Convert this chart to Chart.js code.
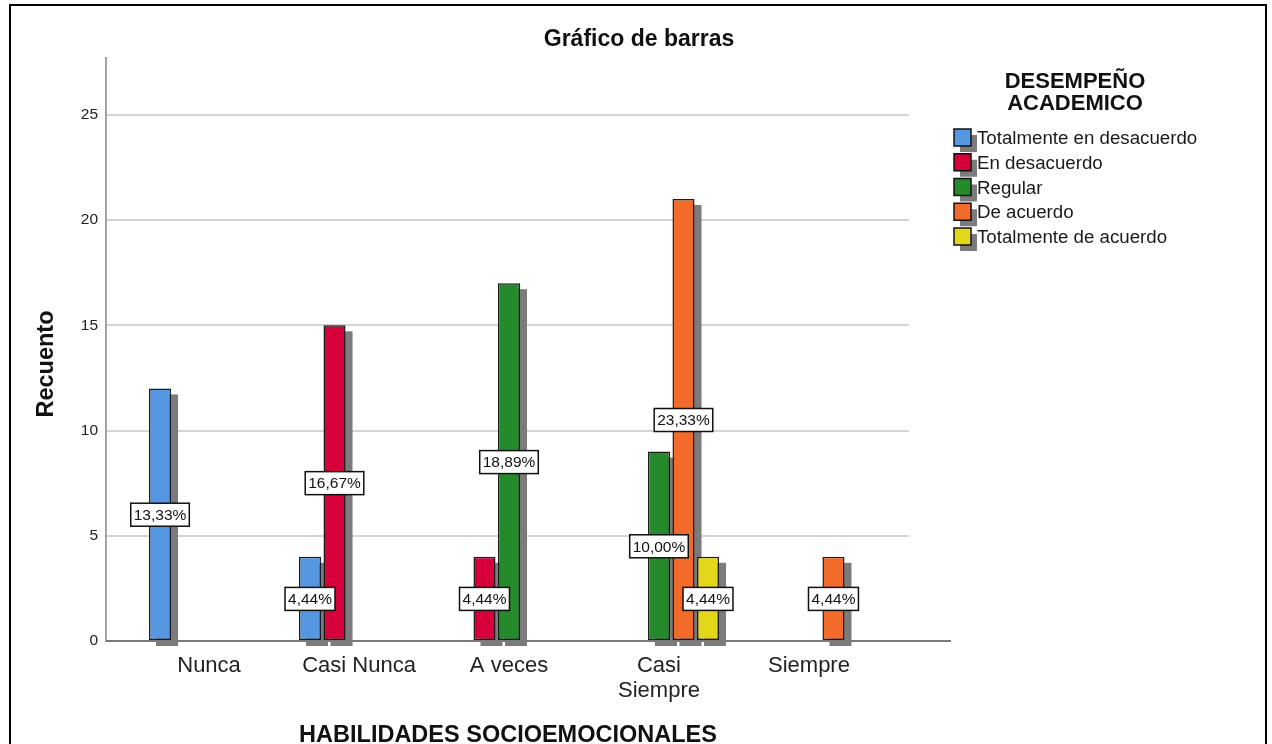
<!DOCTYPE html>
<html lang="es">
<head>
<meta charset="UTF-8" />
<title>Gráfico de barras</title>
<script src="https://cdn.jsdelivr.net/npm/chart.js@4.4.1/dist/chart.umd.min.js"></script>
<style>
  html, body { margin: 0; padding: 0; background: #fff; overflow: hidden; }
  #wrap { position: relative; width: 1272px; height: 744px; }
</style>
</head>
<body>
<div id="wrap"><canvas id="barras" width="1272" height="744"></canvas></div>
<script>
// Recuento por categoría de HABILIDADES SOCIOEMOCIONALES
const categorias = ["Nunca", "Casi Nunca", "A veces", "Casi Siempre", "Siempre"];
const etiquetasEje = ["Nunca", "Casi Nunca", "A veces", ["Casi", "Siempre"], "Siempre"];
const series = ["Totalmente en desacuerdo", "En desacuerdo", "Regular", "De acuerdo", "Totalmente de acuerdo"];
const totDesacuerdo = [12, 4, null, null, null];
const enDesacuerdo = [null, 15, 4, null, null];
const regular = [null, null, 17, 9, null];
const deAcuerdo = [null, null, null, 21, 4];
const totAcuerdo = [null, null, null, 4, null];
const colores = ["#5697e2", "#d6003a", "#248a2c", "#f26b2b", "#e4d719"];
const ticksY = [0, 5, 10, 15, 20, 25];
const tituloLeyenda = ["DESEMPEÑO", "ACADEMICO"];

const valores = [totDesacuerdo, enDesacuerdo, regular, deAcuerdo, totAcuerdo];
const total = valores.flat().reduce((a, v) => a + (v || 0), 0);

const FUENTE = '"Liberation Sans", Arial, sans-serif';

// sombras, etiquetas de porcentaje, títulos, leyenda y marco
const decor = {
    id: "decor",
    beforeDatasetsDraw(chart) {
        const ctx = chart.ctx;
        ctx.save();
        ctx.fillStyle = "#7b7b7b";
        chart.data.datasets.forEach((ds, di) => {
            chart.getDatasetMeta(di).data.forEach((bar, i) => {
                if (ds.data[i] == null) return;
                const p = bar.getProps(["x", "y", "base", "width"], true);
                ctx.fillRect(p.x - p.width / 2 + 7, p.y + 6, p.width, p.base - p.y);
            });
        });
        ctx.restore();
    },
    afterDatasetsDraw(chart) {
        const ctx = chart.ctx;
        const area = chart.chartArea;
        const yScale = chart.scales.y;
        ctx.save();
        // línea del eje X
        ctx.strokeStyle = "#7a7a7a";
        ctx.lineWidth = 2;
        ctx.beginPath();
        ctx.moveTo(area.left, area.bottom);
        ctx.lineTo(951, area.bottom);
        ctx.stroke();

        ctx.font = "15.5px " + FUENTE;
        ctx.textAlign = "center";
        ctx.textBaseline = "middle";
        chart.data.datasets.forEach((ds, di) => {
            chart.getDatasetMeta(di).data.forEach((bar, i) => {
                const v = ds.data[i];
                if (v == null) return;
                const txt = (v / total * 100).toFixed(2).replace(".", ",") + "%";
                const w = ctx.measureText(txt).width + 6;
                const h = 23;
                const cx = bar.x;
                const cy = yScale.getPixelForValue(v / 2);
                ctx.fillStyle = "#fff";
                ctx.fillRect(cx - w / 2, cy - h / 2, w, h);
                ctx.strokeStyle = "#111";
                ctx.lineWidth = 1.5;
                ctx.strokeRect(cx - w / 2, cy - h / 2, w, h);
                ctx.fillStyle = "#111";
                ctx.fillText(txt, cx, cy + 1);
            });
        });
        ctx.restore();
    },
    afterDraw(chart) {
        const ctx = chart.ctx;
        ctx.save();
        ctx.fillStyle = "#111";
        ctx.textBaseline = "middle";
        ctx.textAlign = "center";

        ctx.font = "bold 23px " + FUENTE;
        ctx.fillText("Gráfico de barras", 639, 40);

        ctx.font = "bold 23.5px " + FUENTE;
        ctx.fillText("HABILIDADES SOCIOEMOCIONALES", 508, 736);

        ctx.save();
        ctx.translate(47, 364);
        ctx.rotate(-Math.PI / 2);
        ctx.fillText("Recuento", 0, 0);
        ctx.restore();

        // leyenda
        ctx.font = "bold 22px " + FUENTE;
        ctx.fillText(tituloLeyenda[0], 1075, 82);
        ctx.fillText(tituloLeyenda[1], 1075, 104);

        ctx.font = "18.7px " + FUENTE;
        ctx.textAlign = "left";
        series.forEach((nombre, k) => {
            const y0 = 129 + k * 24.75;
            ctx.fillStyle = "#7b7b7b";
            ctx.fillRect(960, y0 + 6, 17, 17);
            ctx.fillStyle = colores[k];
            ctx.fillRect(954, y0, 17, 17);
            ctx.strokeStyle = "#111";
            ctx.lineWidth = 1.5;
            ctx.strokeRect(954, y0, 17, 17);
            ctx.fillStyle = "#1a1a1a";
            ctx.fillText(nombre, 977, y0 + 10);
        });

        // marco exterior
        ctx.strokeStyle = "#000";
        ctx.lineWidth = 2;
        ctx.strokeRect(10, 5, 1256, 800);
        ctx.restore();
    }
};

new Chart(document.getElementById("barras"), {
    type: "bar",
    data: {
        labels: categorias.map((_, i) => i),
        datasets: series.map((nombre, k) => ({
            label: nombre,
            data: valores[k],
            backgroundColor: colores[k],
            borderColor: "#1c1c1c",
            borderWidth: 1.5,
            borderSkipped: false,
            categoryPercentage: 0.817,
            barPercentage: 0.9
        }))
    },
    options: {
        responsive: false,
        animation: false,
        layout: { padding: { top: 58, right: 363, left: 0, bottom: 0 } },
        plugins: {
            legend: { display: false },
            tooltip: { enabled: false }
        },
        scales: {
            x: {
                type: "linear",
                offset: false,
                min: -0.687,
                max: 4.667,
                afterBuildTicks: (s) => { s.ticks = categorias.map((_, i) => ({ value: i })); },
                afterFit: (s) => { s.height = 103; },
                grid: { display: false, drawTicks: false },
                border: { display: false },
                ticks: {
                    autoSkip: false,
                    maxRotation: 0,
                    padding: 12,
                    color: "#222",
                    font: { family: FUENTE, size: 22, lineHeight: 1.15 },
                    callback: (v) => etiquetasEje[v]
                }
            },
            y: {
                min: 0,
                max: 27.7,
                afterBuildTicks: (s) => { s.ticks = ticksY.map((v) => ({ value: v })); },
                afterFit: (s) => { s.width = 106; },
                grid: { color: "#d4d4d4", lineWidth: 2, drawTicks: false },
                border: { color: "#a3a3a3", width: 2 },
                ticks: {
                    padding: 8,
                    color: "#222",
                    font: { family: FUENTE, size: 15.5 }
                }
            }
        }
    },
    plugins: [decor]
});
</script>
</body>
</html>
